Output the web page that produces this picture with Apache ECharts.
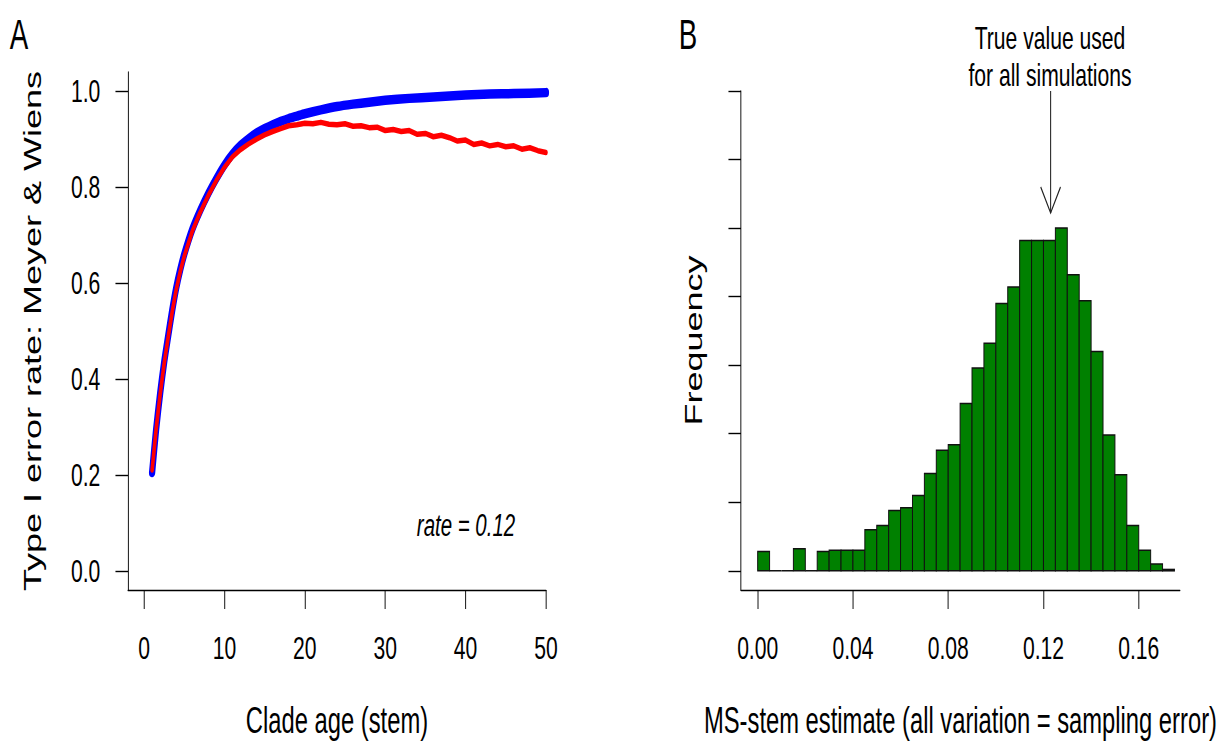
<!DOCTYPE html>
<html><head><meta charset="utf-8">
<script src="https://cdn.jsdelivr.net/npm/echarts@6/dist/echarts.min.js"></script>
<style>
html,body{margin:0;padding:0;background:#fff;overflow:hidden;width:1227px;height:744px;}
#wrap{width:1227px;height:744px;overflow:hidden;position:relative;background:#fff;}
#chart{position:absolute;left:0;top:0;height:744px;transform-origin:0 0;}
</style></head><body>
<div id="wrap"><div id="chart"></div></div>
<script>
// ---- data ----
const ageTicks = [0, 10, 20, 30, 40, 50];
const rateTicks = [0, 0.2, 0.4, 0.6, 0.8, 1.0];
const blueAge = [1,1.5,2,2.5,3,3.5,4,4.5,5,6,7,8,9,10,11,12,13,14,15,16,17,18,19,20,22,24,26,28,30,33,36,40,43,46,50];
const blueRate = [0.205,0.295,0.37,0.435,0.49,0.543,0.59,0.628,0.66,0.712,0.752,0.787,0.818,0.846,0.869,0.887,0.901,0.913,0.922,0.93,0.937,0.943,0.948,0.953,0.961,0.968,0.973,0.977,0.981,0.985,0.988,0.992,0.994,0.995,0.997];
const redAge = [1,1.5,2,2.5,3,3.5,4,4.5,5,6,7,8,9,10,11,12,13,14,15,16,17,18,19,20,21,22,23,24,25,26,27,28,29,30,31,32,33,34,35,36,37,38,39,40,41,42,43,44,45,46,47,48,49,50];
const redRate = [0.21,0.295,0.368,0.432,0.487,0.54,0.586,0.624,0.656,0.708,0.748,0.783,0.814,0.841,0.863,0.878,0.89,0.9,0.909,0.916,0.922,0.928,0.93,0.933,0.932,0.935,0.931,0.93,0.932,0.927,0.928,0.924,0.925,0.918,0.92,0.916,0.918,0.91,0.912,0.905,0.908,0.903,0.896,0.898,0.889,0.892,0.886,0.889,0.884,0.886,0.879,0.882,0.876,0.872];
const binEdges = [0.000,0.005,0.010,0.015,0.020,0.025,0.030,0.035,0.040,0.045,0.050,0.055,0.060,0.065,0.070,0.075,0.080,0.085,0.090,0.095,0.100,0.105,0.110,0.115,0.120,0.125,0.130,0.135,0.140,0.145,0.150,0.155,0.160,0.165,0.170,0.175];
const binCounts = [14,0,0,16,0,14,15,15,15,30,33,44,46,55,71,88,92,122,148,166,195,207,241,241,241,250,216,197,160,99,70,33,15,5,1];
const estTicks = [0, 0.04, 0.08, 0.12, 0.16];
const freqTicks = [0, 50, 100, 150, 200, 250, 300, 350];
const trueValue = 0.123;
const arrowFromTo = [350, 261];

// ---- layout ----
const SX = 0.66;                 // the reference is squeezed horizontally
const W = 1227 / SX;
const X = px => px / SX;
const FONT = 'Liberation Sans, Arial, Helvetica, sans-serif';
const el = document.getElementById('chart');
el.style.width = W + 'px';
el.style.transform = 'scaleX(' + SX + ')';

const blueData = blueAge.map((a, i) => [a, blueRate[i]]);
const redData = redAge.map((a, i) => [a, redRate[i]]);
const histData = binCounts.map((c, i) => [binEdges[i], binEdges[i + 1], c]);

const lineBlack = {color: '#000', width: 1.4};
function axisX(idx, min, max, ticks, fmt, name) {
  return {
    gridIndex: idx, type: 'value', min: min, max: max,
    axisLine: {show: true, onZero: false, lineStyle: lineBlack},
    axisTick: {show: true, inside: false, length: 19, customValues: ticks, lineStyle: lineBlack},
    axisLabel: {show: true, customValues: ticks, formatter: fmt, fontSize: 32, margin: 42, color: '#000', fontFamily: FONT},
    splitLine: {show: false},
    name: name, nameLocation: 'middle', nameGap: 112,
    nameTextStyle: {fontSize: 36, color: '#000', fontFamily: FONT}
  };
}
function axisY(idx, min, max, ticks, fmt, showLabel, name, gap) {
  return {
    gridIndex: idx, type: 'value', min: min, max: max,
    axisLine: {show: true, onZero: false, lineStyle: lineBlack},
    axisTick: {show: true, inside: false, length: 19, customValues: ticks, lineStyle: lineBlack},
    axisLabel: {show: showLabel, customValues: ticks, formatter: fmt, fontSize: 32, margin: 42, color: '#000', fontFamily: FONT},
    splitLine: {show: false},
    name: name, nameLocation: 'middle', nameGap: gap, nameRotate: 90,
    nameTextStyle: {fontSize: 36, color: '#000', fontFamily: FONT}
  };
}

function txt(text, x, y, size, extra) {
  return {
    type: 'text', x: x, y: y, silent: true,
    style: Object.assign({text: text, fill: '#000', fontSize: size, fontFamily: FONT,
      align: 'center', verticalAlign: 'middle', textAlign: 'center', textVerticalAlign: 'middle'}, extra || {})
  };
}

const option = {
  animation: false,
  backgroundColor: '#fff',
  grid: [
    {left: X(128), right: X(1227 - 546), top: 72, bottom: 154},
    {left: X(741), right: X(1227 - 1180), top: 91, bottom: 154}
  ],
  xAxis: [
    axisX(0, -2, 50, ageTicks, v => String(v), 'Clade age (stem)'),
    axisX(1, -0.007, 0.1773, estTicks, v => v.toFixed(2), 'MS-stem estimate (all variation = sampling error)')
  ],
  yAxis: [
    axisY(0, -0.04, 1.04, rateTicks, v => v.toFixed(1), true, 'Type I error rate: Meyer & Wiens', 127),
    axisY(1, -14, 350, freqTicks, v => String(v), false, 'Frequency', 54)
  ],
  graphic: [
    txt('A', X(19), 35, 42),
    txt('B', X(688), 35, 42),
    txt('rate = 0.12', X(466), 525, 31, {fontStyle: 'italic'}),
    txt('True value used', X(1050), 38, 32),
    txt('for all simulations', X(1050), 75, 32)
  ],
  series: [
    {
      type: 'line', xAxisIndex: 0, yAxisIndex: 0, data: blueData, showSymbol: false, smooth: 0.2,
      lineStyle: {color: '#0000ff', width: 9.5, cap: 'round', join: 'round'}, z: 2
    },
    {
      type: 'line', xAxisIndex: 0, yAxisIndex: 0, data: redData, showSymbol: false,
      lineStyle: {color: '#ff0000', width: 5.5, cap: 'round', join: 'round'}, z: 3
    },
    {
      type: 'custom', xAxisIndex: 1, yAxisIndex: 1, data: histData,
      encode: {x: [0, 1], y: 2},
      renderItem: function (params, api) {
        const p0 = api.coord([api.value(0), 0]);
        const p1 = api.coord([api.value(1), api.value(2)]);
        return {
          type: 'rect',
          shape: {x: p0[0], y: p1[1], width: p1[0] - p0[0], height: p0[1] - p1[1]},
          style: {fill: '#008000', stroke: '#111', lineWidth: 1.5}
        };
      }
    },
    {
      type: 'custom', xAxisIndex: 1, yAxisIndex: 1,
      data: [[trueValue, arrowFromTo[0], arrowFromTo[1]]],
      encode: {x: 0, y: [1, 2]},
      renderItem: function (params, api) {
        const a = api.coord([api.value(0), api.value(1)]);
        const b = api.coord([api.value(0), api.value(2)]);
        const st = {stroke: '#222', lineWidth: 1.6, fill: 'none'};
        return {
          type: 'group',
          children: [
            {type: 'line', shape: {x1: a[0], y1: a[1], x2: b[0], y2: b[1]}, style: st},
            {type: 'polyline', shape: {points: [[b[0] - 15, b[1] - 26], [b[0], b[1]], [b[0] + 15, b[1] - 26]]}, style: st}
          ]
        };
      }
    }
  ]
};
const chart = echarts.init(el, null, {renderer: 'svg'});
chart.setOption(option);
</script>
</body></html>
